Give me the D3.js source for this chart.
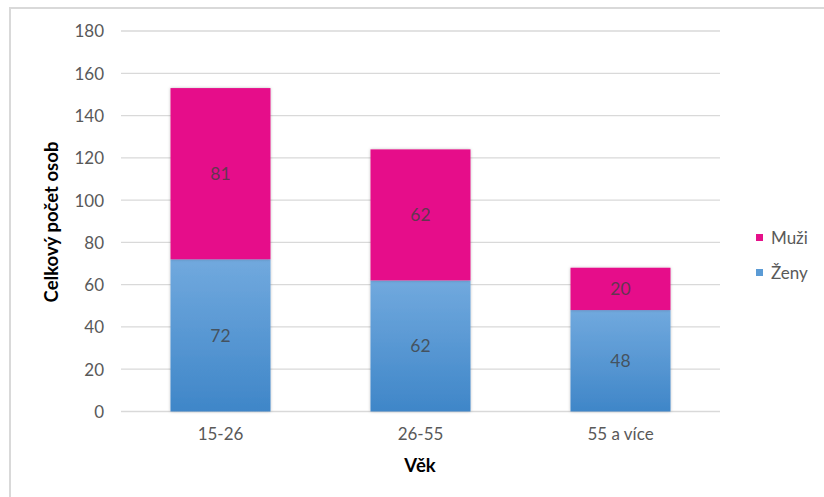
<!DOCTYPE html>
<html><head><meta charset="utf-8">
<script src="https://cdn.jsdelivr.net/npm/d3@7"></script>
<style>body{margin:0;background:#fff}svg{display:block}text{font-family:Lato,"Open Sans",sans-serif}</style>
</head><body>
<script>
const categories = ["15-26", "26-55", "55 a více"];
const zeny = [72, 62, 48];
const muzi = [81, 62, 20];
const seriesNames = ["Ženy", "Muži"];
const yTicks = [0, 20, 40, 60, 80, 100, 120, 140, 160, 180];

const W = 824, H = 497;
const svg = d3.select("body").append("svg").attr("width", W).attr("height", H);
const defs = svg.append("defs");
const grad = defs.append("linearGradient").attr("id", "gBlue").attr("x1", 0).attr("y1", 0).attr("x2", 0).attr("y2", 1);
grad.append("stop").attr("offset", "0%").attr("stop-color", "#71A9DE");
grad.append("stop").attr("offset", "100%").attr("stop-color", "#3F86C8");
const f = defs.append("filter").attr("id", "sh").attr("x", "-10%").attr("y", "-10%").attr("width", "120%").attr("height", "120%");
f.append("feDropShadow").attr("dx", 0).attr("dy", 0).attr("stdDeviation", 1.5).attr("flood-color", "#000").attr("flood-opacity", 0.25);

// chart border
svg.append("rect").attr("x", 10).attr("y", 8).attr("width", W + 20).attr("height", H + 20)
  .attr("fill", "none").attr("stroke", "#d9d9d9").attr("stroke-width", 2);

const x = d3.scaleBand().domain(categories).range([120.5, 720.5]).paddingInner(0.5).paddingOuter(0.25);
const y = d3.scaleLinear().domain([0, 180]).range([411.5, 31]);

// gridlines
svg.append("g").selectAll("line").data(yTicks).join("line")
  .attr("x1", 121).attr("x2", 720).attr("y1", d => y(d)).attr("y2", d => y(d))
  .attr("stroke", "#d9d9d9").attr("stroke-width", 1.3);

// y axis labels
const yAxis = d3.axisLeft(y).tickValues(yTicks).tickSize(0).tickPadding(0);
const gy = svg.append("g").attr("transform", "translate(104,0)").call(yAxis);
gy.select(".domain").remove();
gy.selectAll("text").attr("font-size", 17).attr("fill", "#595959").attr("font-family", "Lato").attr("dy", "0.35em");

// x axis labels
const xAxis = d3.axisBottom(x).tickSize(0).tickPadding(0);
const gx = svg.append("g").attr("transform", "translate(0,428)").call(xAxis);
gx.select(".domain").remove();
gx.selectAll("text").attr("font-size", 17).attr("fill", "#595959").attr("font-family", "Lato").attr("dy", "0.71em");

const stackData = categories.map((c, i) => ({cat: c, "Ženy": zeny[i], "Muži": muzi[i]}));
const stack = d3.stack().keys(seriesNames)(stackData);
const colors = {"Ženy": "url(#gBlue)", "Muži": "#E6118A"};

const bars = svg.append("g");
stack.forEach(s => {
  bars.append("g").selectAll("rect").data(s).join("rect")
    .attr("x", d => x(d.data.cat)).attr("width", x.bandwidth())
    .attr("y", d => y(d[1])).attr("height", d => y(d[0]) - y(d[1]))
    .attr("fill", colors[s.key]).attr("filter", "url(#sh)");
});
stack.forEach(s => {
  svg.append("g").selectAll("text").data(s).join("text")
    .attr("x", d => x(d.data.cat) + x.bandwidth() / 2)
    .attr("y", d => (y(d[0]) + y(d[1])) / 2)
    .attr("dy", "0.35em").attr("text-anchor", "middle")
    .attr("font-size", 17.5).attr("fill", "#404040").attr("fill-opacity", 0.8)
    .text(d => d[1] - d[0]);
});

// axis titles
svg.append("text").attr("transform", "translate(52,222) rotate(-90)")
  .attr("text-anchor", "middle").attr("dy", "0.35em")
  .attr("font-size", 18.5).attr("font-weight", "bold").attr("fill", "#000")
  .text("Celkový počet osob");
svg.append("text").attr("x", 420).attr("y", 466).attr("text-anchor", "middle").attr("dy", "0.35em")
  .attr("font-size", 18.5).attr("font-weight", "bold").attr("fill", "#000").text("Věk");

// legend
const legendItems = [{name: "Muži", color: "#E6118A", y: 238}, {name: "Ženy", color: "#5B9BD5", y: 273}];
const lg = svg.append("g").selectAll("g").data(legendItems).join("g");
lg.append("rect").attr("x", 756).attr("y", d => d.y - 4).attr("width", 7).attr("height", 7).attr("fill", d => d.color);
lg.append("text").attr("x", 771).attr("y", d => d.y).attr("dy", "0.35em")
  .attr("font-size", 17).attr("fill", "#595959").text(d => d.name);
</script>
</body></html>
